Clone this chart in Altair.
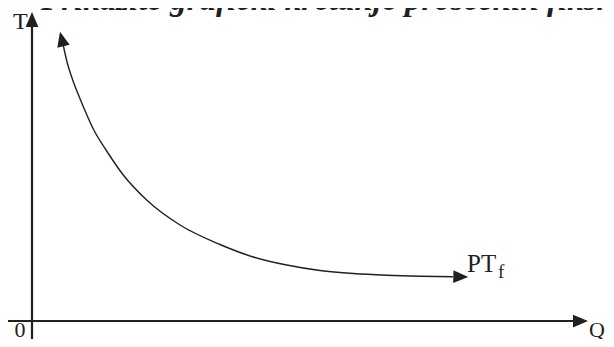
import altair as alt
import numpy as np
import pandas as pd

# Coordinates (units: Q to the right, T upward, origin at axis crossing)
curve_q = [31.3, 35.3, 40.7, 47.3, 54, 61.3, 74.7, 91.3, 114.7, 148, 188, 221.3,
           254.7, 288, 321.3, 354.7, 388, 421]
curve_t = [275.5, 258, 241, 224, 208, 192, 170, 146, 121, 96, 76.5, 64,
           56, 50.5, 47.5, 45.8, 44.8, 44.3]
curve_start_tip = (28, 289.3)
curve_end_tip = (436.3, 44)

x_axis_from, x_axis_base, x_axis_tip = -24, 542, 556
y_axis_from, y_axis_base, y_axis_tip = -22, 296, 309

title_text = "Prikažite grafički kretanje prosečnih fiksnih troškova"
bullet_text = "•"
t_label, q_label, zero_label = "T", "Q", "0"
curve_label_main, curve_label_sub = "PT", "f"

INK = "#231f20"
FONT = "Liberation Serif"

xs = alt.Scale(domain=[-24, 574])
ys = alt.Scale(domain=[-18, 313])

curve_df = pd.DataFrame({"q": curve_q, "t": curve_t, "i": range(len(curve_q))})

axes_df = pd.DataFrame({
    "x": [x_axis_from, 0], "x2": [x_axis_base, 0],
    "y": [0, y_axis_from], "y2": [0, y_axis_base],
})

def direction(frm, to):
    dx = to[0] - frm[0]
    dy = to[1] - frm[1]
    return float(np.degrees(np.arctan2(dx, dy)) % 360)

heads_df = pd.DataFrame({
    "x": [x_axis_tip, 0, curve_start_tip[0], curve_end_tip[0]],
    "y": [0, y_axis_tip, curve_start_tip[1], curve_end_tip[1]],
    "angle": [
        direction((x_axis_base, 0), (x_axis_tip, 0)),
        direction((0, y_axis_base), (0, y_axis_tip)),
        direction((curve_q[0], curve_t[0]), curve_start_tip),
        direction((curve_q[-1], curve_t[-1]), curve_end_tip),
    ],
})

arrow_path = "M0,0L0.85,2L-0.85,2Z"

axes = alt.Chart(axes_df).mark_rule(color=INK, strokeWidth=2.2).encode(
    x=alt.X("x:Q", scale=xs, axis=None),
    x2="x2:Q",
    y=alt.Y("y:Q", scale=ys, axis=None),
    y2="y2:Q",
)

curve = alt.Chart(curve_df).mark_line(
    color=INK, strokeWidth=1.4, interpolate="monotone"
).encode(
    x=alt.X("q:Q", scale=xs, axis=None),
    y=alt.Y("t:Q", scale=ys, axis=None),
    order="i:O",
)

heads = alt.Chart(heads_df).mark_point(
    shape=arrow_path, filled=True, size=225, color=INK, opacity=1, strokeWidth=0
).encode(
    x=alt.X("x:Q", scale=xs, axis=None),
    y=alt.Y("y:Q", scale=ys, axis=None),
    angle=alt.Angle("angle:Q", scale=None),
)

labels_df = pd.DataFrame({
    "x": [-19, -17.5, 557, 435, 466, 9, -32],
    "y": [292, -16, -16, 49, 43, 311, 312],
    "text": [t_label, zero_label, q_label, curve_label_main, curve_label_sub, title_text, bullet_text],
    "size": [24, 22, 22, 25, 19, 33, 33],
    "weight": ["normal"] * 5 + ["bold", "bold"],
    "style": ["normal"] * 5 + ["italic", "italic"],
})

def text_layer(row):
    return alt.Chart(pd.DataFrame([row])).mark_text(
        align="left", baseline="alphabetic", font=FONT, color=INK,
        fontSize=row["size"], fontWeight=row["weight"], fontStyle=row["style"],
    ).encode(
        x=alt.X("x:Q", scale=xs, axis=None),
        y=alt.Y("y:Q", scale=ys, axis=None),
        text="text:N",
    )

texts = [text_layer(r) for r in labels_df.to_dict("records")]

chart = alt.layer(axes, curve, heads, *texts).properties(
    width=598, height=331,
    autosize=alt.AutoSizeParams(type="none"),
    padding=0,
    background="white",
).configure_view(stroke=None)

chart.save("out.html", embed_options={"renderer": "svg", "actions": False})
